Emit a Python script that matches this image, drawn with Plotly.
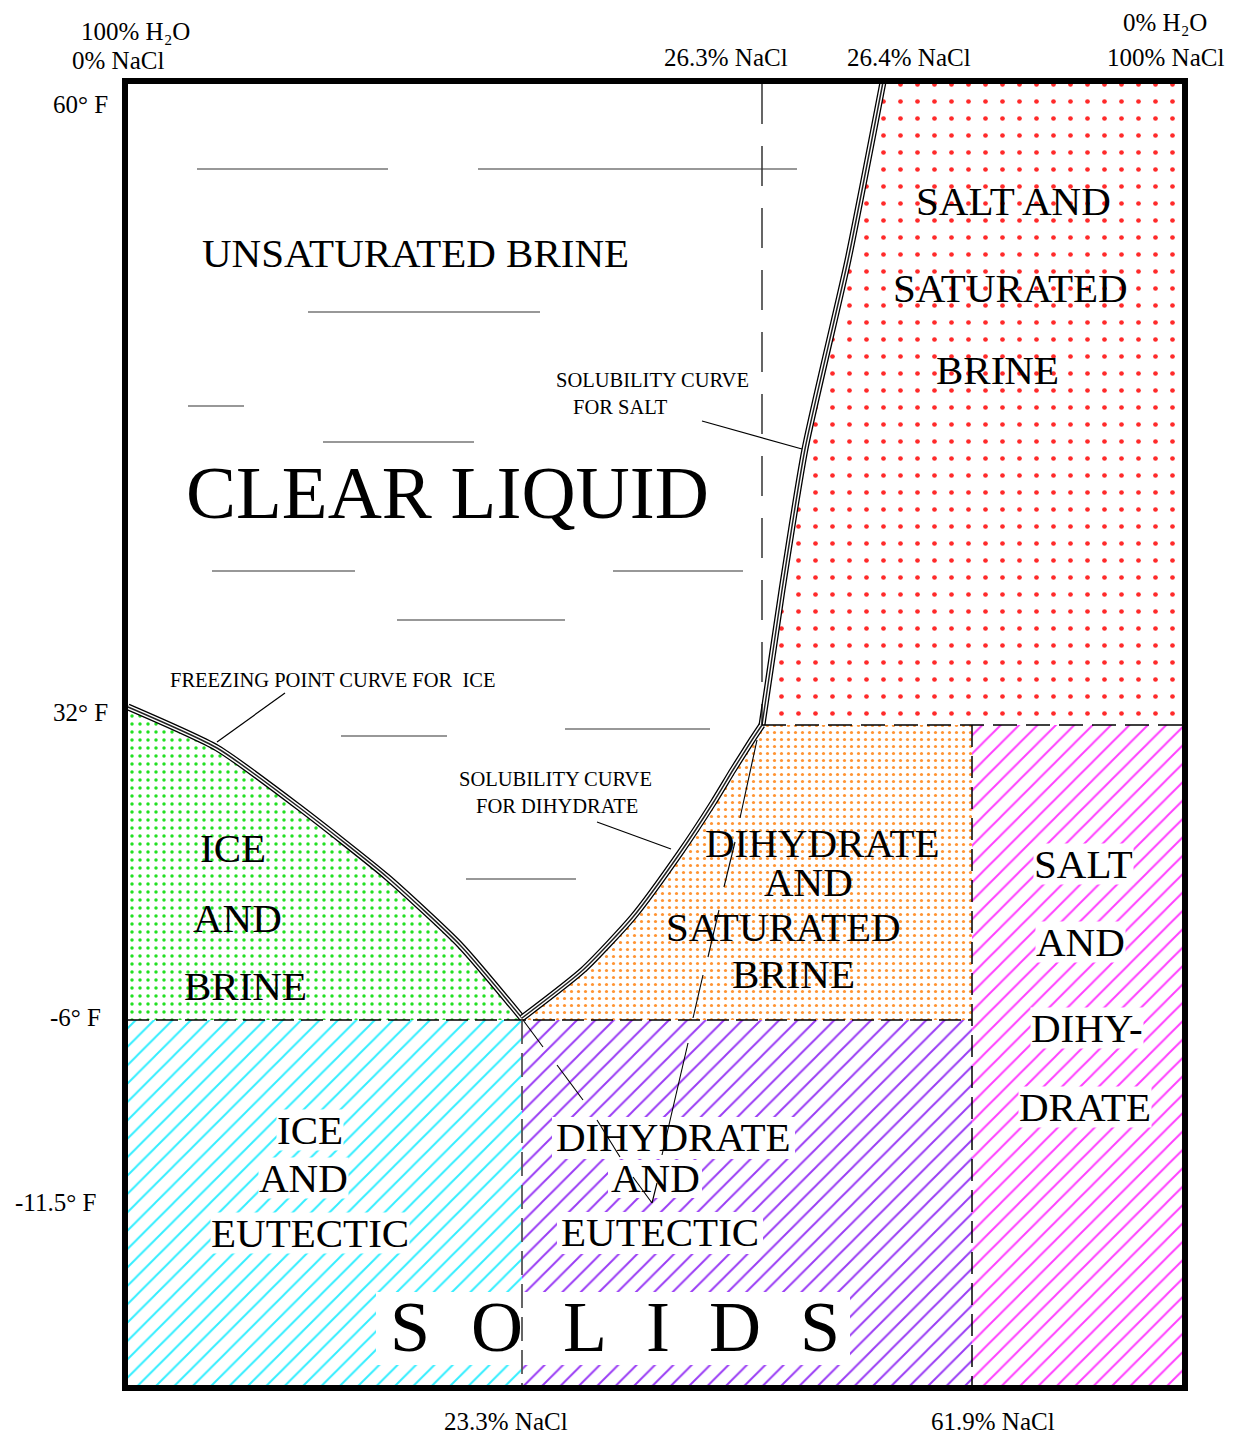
import plotly.graph_objects as go

# ---- schematic positions (diagram units = pixels of the schematic) ----
X_LEFT, X_RIGHT = 127, 1183          # 0% NaCl ... 100% NaCl
Y_TOP, Y_BOTTOM = 84, 1386           # top / bottom of diagram
X_233, X_263, X_619 = 522, 762, 972  # 23.3%, 26.3%, 61.9% NaCl
Y_32, Y_M6 = 725, 1020               # 32 F, -6 F

# ---- curves ----
freeze_x = [128, 217, 300, 387, 460, 522]
freeze_y = [707, 748, 808, 877, 945, 1018]
dihyd_x = [522, 583, 633, 680, 713, 733, 752, 762]
dihyd_y = [1018, 970, 917, 853, 803, 770, 740, 725]
salt_x = [762, 782, 805, 848, 883]
salt_y = [725, 590, 449, 260, 82]

# ---- decorative liquid strokes (y, x0, x1) ----
liquid_y = [169, 169, 312, 406, 442, 571, 571, 620, 736, 729, 879]
liquid_x0 = [197, 478, 308, 188, 323, 212, 613, 397, 341, 565, 466]
liquid_x1 = [388, 797, 540, 244, 474, 355, 743, 565, 447, 710, 576]

# ---- pointer lines ----
pointer_x0 = [702, 285, 597]
pointer_y0 = [421, 693, 822]
pointer_x1 = [802, 217, 671]
pointer_y1 = [449, 742, 849]

# ---- stray construction lines ----
stray = [(757, 740, 740, 818), (735, 842, 724, 887), (719, 910, 708, 957),
         (703, 975, 693, 1018), (688, 1043, 662, 1155), (597, 1120, 620, 1157),
         (633, 1177, 652, 1203), (652, 1203, 657, 1183), (523, 1020, 543, 1047),
         (557, 1065, 583, 1100)]

# ---- labels ----
FONT = "Liberation Serif, Times New Roman, serif"
axis_labels = ["100% H₂O", "0% NaCl", "60° F", "32° F", "-6° F", "-11.5° F",
               "26.3% NaCl", "26.4% NaCl", "0% H₂O", "100% NaCl",
               "23.3% NaCl", "61.9% NaCl"]
axis_lx = [135, 118, 80, 80, 75, 55, 726, 909, 1165, 1165, 506, 993]
axis_ly = [31, 60, 104, 712, 1017, 1202, 57, 57, 22, 57, 1421, 1421]

small_labels = ["SOLUBILITY CURVE", "FOR SALT", "FREEZING POINT CURVE FOR  ICE",
                "SOLUBILITY CURVE", "FOR DIHYDRATE"]
small_lx = [652, 620, 332, 555, 557]
small_ly = [380, 407, 680, 779, 806]

big_labels = ["UNSATURATED BRINE", "SALT AND", "SATURATED", "BRINE",
              "ICE", "AND", "BRINE",
              "DIHYDRATE", "AND", "SATURATED", "BRINE",
              "DIHYDRATE", "AND", "EUTECTIC"]
big_lx = [415, 1013, 1010, 997, 233, 237, 245, 822, 808, 783, 793, 673, 655, 660]
big_ly = [253, 201, 288, 370, 848, 918, 986, 843, 882, 927, 974, 1137, 1178, 1232]

boxed_labels = ["ICE", "AND", "EUTECTIC", "SALT", "AND", "DIHY-", "DRATE"]
boxed_lx = [310, 303, 310, 1083, 1080, 1087, 1085]
boxed_ly = [1130, 1178, 1233, 864, 942, 1028, 1107]

solids_letters = ["S", "O", "L", "I", "D", "S"]
solids_x = [410, 497, 585, 658, 735, 820]
solids_y = 1327

PAGE_MARGIN = 8  # default body margin of the page
fig = go.Figure()


def region(xs, ys, color, shape, size, solidity):
    fig.add_trace(go.Scatter(
        x=xs, y=ys, mode="lines", fill="toself", line=dict(width=0),
        fillcolor="white", hoverinfo="skip", showlegend=False,
        fillpattern=dict(shape=shape, fgcolor=color, bgcolor="white",
                         size=size, solidity=solidity, fillmode="replace")))


# speckled regions
region(salt_x + [X_RIGHT, X_RIGHT], salt_y[:-1] + [Y_TOP] + [Y_TOP, Y_32],
       "#ff2a2a", ".", 17, 0.06)
region(freeze_x + [X_LEFT], freeze_y[:-1] + [Y_M6] + [Y_M6],
       "#22e022", ".", 8, 0.15)
region(dihyd_x + [X_619, X_619, X_233], dihyd_y[:-1] + [Y_32] + [Y_32, Y_M6, Y_M6],
       "#ff9433", ".", 7, 0.16)
# stair-patterned solid regions
region([X_LEFT, X_233, X_233, X_LEFT], [Y_M6, Y_M6, Y_BOTTOM, Y_BOTTOM],
       "#33eeff", "/", 13, 0.15)
region([X_233, X_619, X_619, X_233], [Y_M6, Y_M6, Y_BOTTOM, Y_BOTTOM],
       "#9a3cf5", "/", 13, 0.15)
region([X_619, X_RIGHT, X_RIGHT, X_619], [Y_32, Y_32, Y_BOTTOM, Y_BOTTOM],
       "#ff40ff", "/", 13, 0.15)

# triple-line curves
for cx, cy in [(freeze_x, freeze_y), (dihyd_x, dihyd_y), (salt_x, salt_y)]:
    for w, c in [(7, "black"), (4.4, "white"), (1.5, "#222")]:
        fig.add_trace(go.Scatter(x=cx, y=cy, mode="lines",
                                 line=dict(color=c, width=w, shape="spline", smoothing=0.6),
                                 hoverinfo="skip", showlegend=False))

shapes = []
# white boxes behind text in the dihydrate/eutectic region and SOLIDS
for (x0, y0, x1, y1) in [(552, 1117, 795, 1159), (608, 1160, 702, 1198),
                         (557, 1212, 763, 1254), (376, 1292, 850, 1365)]:
    shapes.append(dict(type="rect", x0=x0, y0=y0, x1=x1, y1=y1,
                       fillcolor="white", line=dict(width=0)))
# dashed phase boundaries
shapes.append(dict(type="line", x0=X_263, x1=X_263, y0=Y_TOP, y1=Y_32,
                   line=dict(color="black", width=1.2, dash="40px,22px")))
shapes.append(dict(type="line", x0=X_263, x1=X_RIGHT, y0=Y_32, y1=Y_32,
                   line=dict(color="black", width=1.5, dash="24px,9px")))
shapes.append(dict(type="line", x0=X_LEFT, x1=X_619, y0=Y_M6, y1=Y_M6,
                   line=dict(color="black", width=1.5, dash="22px,7px")))
shapes.append(dict(type="line", x0=X_233, x1=X_233, y0=Y_M6, y1=Y_BOTTOM,
                   line=dict(color="#555", width=1.8, dash="24px,9px")))
shapes.append(dict(type="line", x0=X_619, x1=X_619, y0=Y_32, y1=Y_BOTTOM,
                   line=dict(color="black", width=1.5, dash="22px,9px")))
# liquid strokes
for y, a, b in zip(liquid_y, liquid_x0, liquid_x1):
    shapes.append(dict(type="line", x0=a, x1=b, y0=y, y1=y,
                       line=dict(color="#333", width=1.2)))
# pointers
for a, b, c, d in zip(pointer_x0, pointer_y0, pointer_x1, pointer_y1):
    shapes.append(dict(type="line", x0=a, y0=b, x1=c, y1=d,
                       line=dict(color="black", width=1.2)))
for a, b, c, d in stray:
    shapes.append(dict(type="line", x0=a, y0=b, x1=c, y1=d,
                       line=dict(color="black", width=1.1)))
# frame
shapes.append(dict(type="rect", x0=125, y0=81, x1=1185, y1=1388,
                   line=dict(color="black", width=6), fillcolor="rgba(0,0,0,0)"))
for s in shapes:
    s.setdefault("xref", "x")
    s.setdefault("yref", "y")
    s.setdefault("layer", "above")

ann = []
for t, x, y in zip(axis_labels, axis_lx, axis_ly):
    ann.append(dict(text=t, x=x, y=y, font=dict(size=25)))
for t, x, y in zip(small_labels, small_lx, small_ly):
    ann.append(dict(text=t, x=x, y=y, font=dict(size=20.5)))
for t, x, y in zip(big_labels, big_lx, big_ly):
    ann.append(dict(text=t, x=x, y=y, font=dict(size=41), height=38))
for t, x, y in zip(boxed_labels, boxed_lx, boxed_ly):
    ann.append(dict(text=t, x=x, y=y, font=dict(size=41), bgcolor="white",
                    borderpad=0, height=40))
ann.append(dict(text="CLEAR LIQUID", x=447, y=492, font=dict(size=75)))
for t, x in zip(solids_letters, solids_x):
    ann.append(dict(text=t, x=x, y=solids_y, font=dict(size=72)))
for a in ann:
    a.update(xref="x", yref="y", showarrow=False, xanchor="center", yanchor="middle")
    a["font"].update(family=FONT, color="black")

W, H = 1234 - 2 * PAGE_MARGIN, 1445 - 2 * PAGE_MARGIN
fig.update_layout(
    width=W, height=H, margin=dict(l=0, r=0, t=0, b=0),
    paper_bgcolor="white", plot_bgcolor="white",
    xaxis=dict(range=[PAGE_MARGIN, PAGE_MARGIN + W], visible=False, fixedrange=True),
    yaxis=dict(range=[PAGE_MARGIN + H, PAGE_MARGIN], visible=False, fixedrange=True),
    shapes=shapes, annotations=ann, showlegend=False,
)
fig.write_html("out.html")
